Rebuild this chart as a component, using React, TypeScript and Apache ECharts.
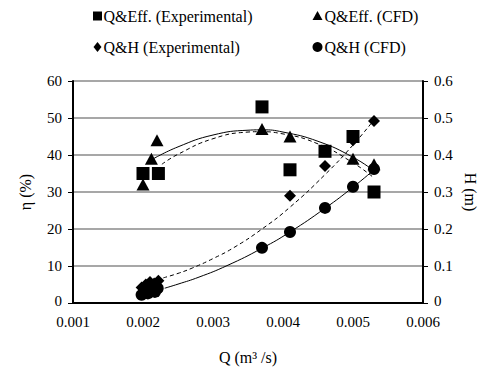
import React, { useEffect, useRef } from "react";
import * as echarts from "echarts";

// Efficiency (left axis, %)
const effExp: [number, number][] = [
  [0.002, 35], [0.00222, 35], [0.0037, 53], [0.0041, 36], [0.0046, 41], [0.005, 45], [0.0053, 30],
];
const effCfd: [number, number][] = [
  [0.002, 32], [0.00212, 39], [0.0022, 44], [0.0037, 47], [0.0041, 45], [0.005, 39], [0.0053, 37.5],
];
// Head (right axis, m)
const hExp: [number, number][] = [
  [0.00198, 0.042], [0.00204, 0.05], [0.0021, 0.057], [0.00216, 0.053], [0.00222, 0.06],
  [0.0041, 0.29], [0.0046, 0.37], [0.005, 0.44], [0.0053, 0.492],
];
const hCfd: [number, number][] = [
  [0.00198, 0.022], [0.00202, 0.032], [0.00207, 0.026], [0.00212, 0.036], [0.00217, 0.03], [0.00221, 0.04],
  [0.0037, 0.149], [0.0041, 0.192], [0.0046, 0.257], [0.005, 0.314], [0.0053, 0.362],
];
// Trendlines
const effCfdTrend: [number, number][] = [
  [0.00214, 38.9], [0.0025, 42.2], [0.003, 45.4], [0.0035, 46.7], [0.0037, 46.8], [0.004, 46.2], [0.0045, 43.7], [0.005, 39.4], [0.0053, 35.7],
];
const effExpTrend: [number, number][] = [
  [0.00227, 37.5], [0.0025, 40.2], [0.003, 44.4], [0.0035, 46.2], [0.00365, 46.3], [0.004, 45.7], [0.0045, 43.0], [0.005, 37.9], [0.0053, 33.8],
];
const hCfdTrend: [number, number][] = [
  [0.00231, 0.04], [0.0025, 0.051], [0.0028, 0.07], [0.0032, 0.101], [0.0037, 0.148], [0.0041, 0.192], [0.0046, 0.256], [0.005, 0.313], [0.0053, 0.36],
];
const hExpTrend: [number, number][] = [
  [0.00229, 0.068], [0.0025, 0.08], [0.00271, 0.095], [0.003, 0.12], [0.0033, 0.15], [0.0037, 0.2], [0.0041, 0.259], [0.0046, 0.347], [0.005, 0.427], [0.0053, 0.495],
];

// Tick labels
const xTickLabels = ["0.001", "0.002", "0.003", "0.004", "0.005", "0.006"];
const leftTickLabels = ["0", "10", "20", "30", "40", "50", "60"];
const rightTickLabels = ["0", "0.1", "0.2", "0.3", "0.4", "0.5", "0.6"];

const legendNames = ["Q&Eff. (Experimental)", "Q&Eff. (CFD)", "Q&H (Experimental)", "Q&H (CFD)"];
const xTitle = "Q (m³ /s)";
const leftTitle = "η (%)";
const rightTitle = "H (m)";

const xTicks = { min: 0.001, max: 0.006, interval: 0.001 };
const leftTicks = { min: 0, max: 60, interval: 10 };
const rightTicks = { min: 0, max: 0.6, interval: 0.1 };

const FF = "Liberation Serif";

export default function App() {
  const ref = useRef<HTMLDivElement>(null);
  useEffect(() => {
    if (!ref.current) return;
    const chart = echarts.init(ref.current, null, { renderer: "svg" });
    chart.setOption({
      animation: false,
      backgroundColor: "#fff",
      grid: { left: 73, right: 66, top: 81, bottom: 68 },
      xAxis: {
        type: "value",
        ...xTicks,
        axisLine: { lineStyle: { color: "#000", width: 2 } },
        axisTick: { show: false },
        axisLabel: { show: false },
        splitLine: { show: false },
      },
      yAxis: [
        {
          type: "value",
          ...leftTicks,
          axisLine: { show: true, lineStyle: { color: "#000", width: 2 } },
          axisTick: { show: true, length: 5, lineStyle: { color: "#000" } },
          axisLabel: { show: false },
          splitLine: { show: true, lineStyle: { color: "#8a8a8a", width: 1.5 } },
        },
        {
          type: "value",
          ...rightTicks,
          position: "right",
          axisLine: { show: true, lineStyle: { color: "#000", width: 2 } },
          axisTick: { show: true, length: 5, lineStyle: { color: "#000" } },
          axisLabel: { show: false },
          splitLine: { show: false },
        },
      ],
      series: [
        {
          type: "line", data: effCfdTrend, yAxisIndex: 0, smooth: true, showSymbol: false, silent: true,
          lineStyle: { color: "#000", width: 1 }, z: 1,
        },
        {
          type: "line", data: effExpTrend, yAxisIndex: 0, smooth: true, showSymbol: false, silent: true,
          lineStyle: { color: "#000", width: 1, type: [4, 3] }, z: 1,
        },
        {
          type: "line", data: hCfdTrend, yAxisIndex: 1, smooth: true, showSymbol: false, silent: true,
          lineStyle: { color: "#000", width: 1 }, z: 1,
        },
        {
          type: "line", data: hExpTrend, yAxisIndex: 1, smooth: true, showSymbol: false, silent: true,
          lineStyle: { color: "#000", width: 1, type: [4, 3] }, z: 1,
        },
        {
          name: legendNames[0], type: "scatter", data: effExp, yAxisIndex: 0,
          symbol: "rect", symbolSize: 13, itemStyle: { color: "#000", opacity: 1 }, z: 3,
        },
        {
          name: legendNames[1], type: "scatter", data: effCfd, yAxisIndex: 0,
          symbol: "triangle", symbolSize: [13, 12], itemStyle: { color: "#000", opacity: 1 }, z: 3,
        },
        {
          name: legendNames[2], type: "scatter", data: hExp, yAxisIndex: 1,
          symbol: "diamond", symbolSize: 12, itemStyle: { color: "#000", opacity: 1 }, z: 3,
        },
        {
          name: legendNames[3], type: "scatter", data: hCfd, yAxisIndex: 1,
          symbol: "circle", symbolSize: 12, itemStyle: { color: "#000", opacity: 1 }, z: 3,
        },
      ],
    });

    const txt = (text: string, x: number, y: number, align: string, vAlign: string, rotation = 0, size = 16) => ({
      type: "text",
      x,
      y,
      rotation,
      silent: true,
      style: { text, fontFamily: FF, fontSize: size, fill: "#000", align, verticalAlign: vAlign },
    });
    const px = (x: number, y: number, yi: number) =>
      chart.convertToPixel({ xAxisIndex: 0, yAxisIndex: yi }, [x, y]) as number[];

    const p00 = px(xTicks.min, 0, 0);
    const p11 = px(xTicks.max, leftTicks.max, 0);
    const left = p00[0], bottom = p00[1], right = p11[0], top = p11[1];
    const midY = (top + bottom) / 2;

    const graphics: any[] = [];
    xTickLabels.forEach((l) => {
      const p = px(Number(l), 0, 0);
      graphics.push(txt(l, p[0], bottom + 11, "center", "top", 0, 15));
    });
    leftTickLabels.forEach((l) => {
      const p = px(xTicks.min, Number(l), 0);
      graphics.push(txt(l, left - 11, p[1] - (Number(l) === 0 ? 2 : 0), "right", "middle", 0, 15));
    });
    rightTickLabels.forEach((l) => {
      const p = px(xTicks.max, Number(l), 1);
      graphics.push(txt(l, right + 11, p[1] - (Number(l) === 0 ? 2 : 0), "left", "middle", 0, 15));
    });
    graphics.push(txt(xTitle, (left + right) / 2, bottom + 54, "center", "middle"));
    graphics.push(txt(leftTitle, left - 48, midY, "center", "middle", Math.PI / 2));
    graphics.push(txt(rightTitle, right + 47, midY, "center", "middle", -Math.PI / 2));

    // legend
    const row1 = 16, row2 = 47, c1 = 97.5, c2 = 317.5;
    graphics.push({ type: "rect", silent: true, shape: { x: c1 - 4.5, y: row1 - 4.5, width: 9, height: 9 }, style: { fill: "#000" } });
    graphics.push({
      type: "polygon", silent: true,
      shape: { points: [[c2, row1 - 5], [c2 + 5, row1 + 4], [c2 - 5, row1 + 4]] }, style: { fill: "#000" },
    });
    graphics.push({
      type: "polygon", silent: true,
      shape: { points: [[c1, row2 - 5], [c1 + 4, row2], [c1, row2 + 5], [c1 - 4, row2]] }, style: { fill: "#000" },
    });
    graphics.push({ type: "circle", silent: true, shape: { cx: c2, cy: row2, r: 5 }, style: { fill: "#000" } });
    graphics.push(txt(legendNames[0], c1 + 6, row1, "left", "middle"));
    graphics.push(txt(legendNames[1], c2 + 7, row1, "left", "middle"));
    graphics.push(txt(legendNames[2], c1 + 6, row2, "left", "middle"));
    graphics.push(txt(legendNames[3], c2 + 7, row2, "left", "middle"));

    chart.setOption({ graphic: graphics });
    return () => chart.dispose();
  }, []);
  return <div ref={ref} style={{ width: 489, height: 371, position: "absolute", left: 0, top: 0 }} />;
}
